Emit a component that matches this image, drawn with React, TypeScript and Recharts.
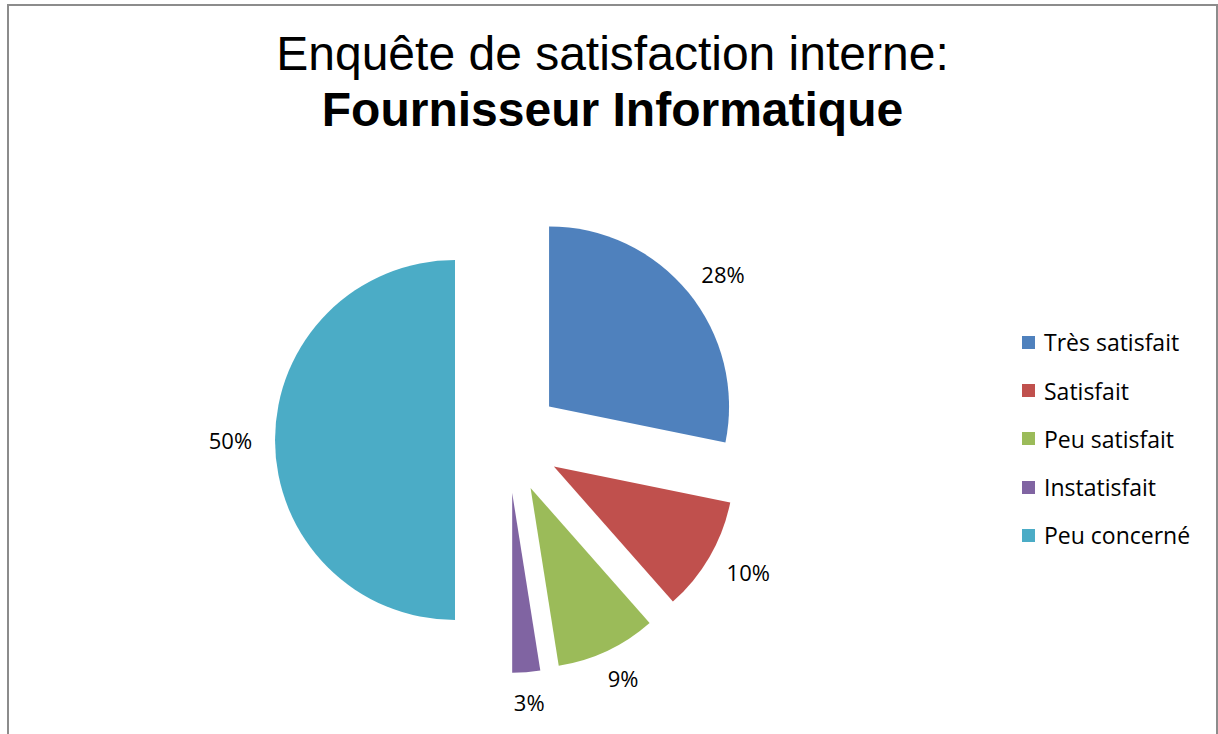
import React from 'react';
import { PieChart, Pie, Cell, Legend } from 'recharts';

const categories = ['Très satisfait', 'Satisfait', 'Peu satisfait', 'Instatisfait', 'Peu concerné'];
const shares = [28.2, 10.3, 9.0, 2.5, 50.0];
const colors = ['#4F81BD', '#C0504D', '#9BBB59', '#8064A2', '#4BACC6'];

const WIDTH = 1207;
const HEIGHT = 736;
const CX = 499;
const CY = 434;
const RADIUS = 180;
const EXPLODE = 53;
const RAD = Math.PI / 180;
const TEXT_FONT = '"Open Sans", sans-serif';
const TITLE_FONT = '"Liberation Sans", Arial, sans-serif';

const total = shares.reduce((a, b) => a + b, 0);

// one Pie per slice, so each one can be pulled out along its own mid angle
const slices = shares.map((value, i) => {
  const before = shares.slice(0, i).reduce((a, b) => a + b, 0);
  const startAngle = 90 - (before / total) * 360;
  const endAngle = 90 - ((before + value) / total) * 360;
  const mid = (startAngle + endAngle) / 2;
  return {
    name: categories[i],
    value,
    color: colors[i],
    startAngle,
    endAngle,
    cx: CX + EXPLODE * Math.cos(mid * RAD),
    cy: CY - EXPLODE * Math.sin(mid * RAD),
  };
});

const renderLabel = (props: any) => {
  const { cx, cy, midAngle, outerRadius, value } = props;
  const cos = Math.cos(-midAngle * RAD);
  const sin = Math.sin(-midAngle * RAD);
  const text = `${Math.round((value / total) * 100)}%`;
  // label box kept clear of the arc, like Excel's "outside end"
  const halfW = text.length * 7.2;
  const halfH = 7;
  const gap = 23;
  return (
    <text
      x={cx + cos * (outerRadius + gap + halfW)}
      y={cy + sin * (outerRadius + gap + halfH)}
      textAnchor="middle"
      dominantBaseline="central"
      fontFamily={TEXT_FONT}
      fontSize={22}
      fill="#000"
    >
      {text}
    </text>
  );
};

const renderLegend = () => (
  <div style={{ fontFamily: TEXT_FONT, fontSize: 23, color: '#000' }}>
    {categories.map((c, i) => (
      <div key={c} style={{ display: 'flex', alignItems: 'center', height: 48.25 }}>
        <span style={{ display: 'inline-block', width: 13, height: 13, background: colors[i], marginRight: 9 }} />
        <span>{c}</span>
      </div>
    ))}
  </div>
);

export default function App() {
  return (
    <div
      style={{
        position: 'absolute',
        left: 7,
        top: 4,
        width: WIDTH,
        height: HEIGHT,
        border: '2px solid #8c8c8c',
        background: '#fff',
      }}
    >
      <PieChart width={WIDTH} height={HEIGHT} margin={{ top: 0, right: 0, bottom: 0, left: 0 }}>
        <text x={WIDTH / 2} y={64} textAnchor="middle" fontFamily={TITLE_FONT} fontSize={48} fill="#000">
          Enquête de satisfaction interne:
        </text>
        <text x={WIDTH / 2} y={120} textAnchor="middle" fontFamily={TITLE_FONT} fontSize={48} fontWeight="bold" fill="#000">
          Fournisseur Informatique
        </text>
        {slices.map((s) => (
          <Pie
            key={s.name}
            data={[s]}
            dataKey="value"
            nameKey="name"
            cx={s.cx}
            cy={s.cy}
            innerRadius={0}
            outerRadius={RADIUS}
            startAngle={s.startAngle}
            endAngle={s.endAngle}
            stroke="none"
            label={renderLabel}
            labelLine={false}
            isAnimationActive={false}
          >
            <Cell fill={s.color} />
          </Pie>
        ))}
        <Legend
          layout="vertical"
          align="right"
          verticalAlign="middle"
          content={renderLegend}
          wrapperStyle={{ left: 1013, right: 'auto', top: 312.3, width: 195 }}
        />
      </PieChart>
    </div>
  );
}
